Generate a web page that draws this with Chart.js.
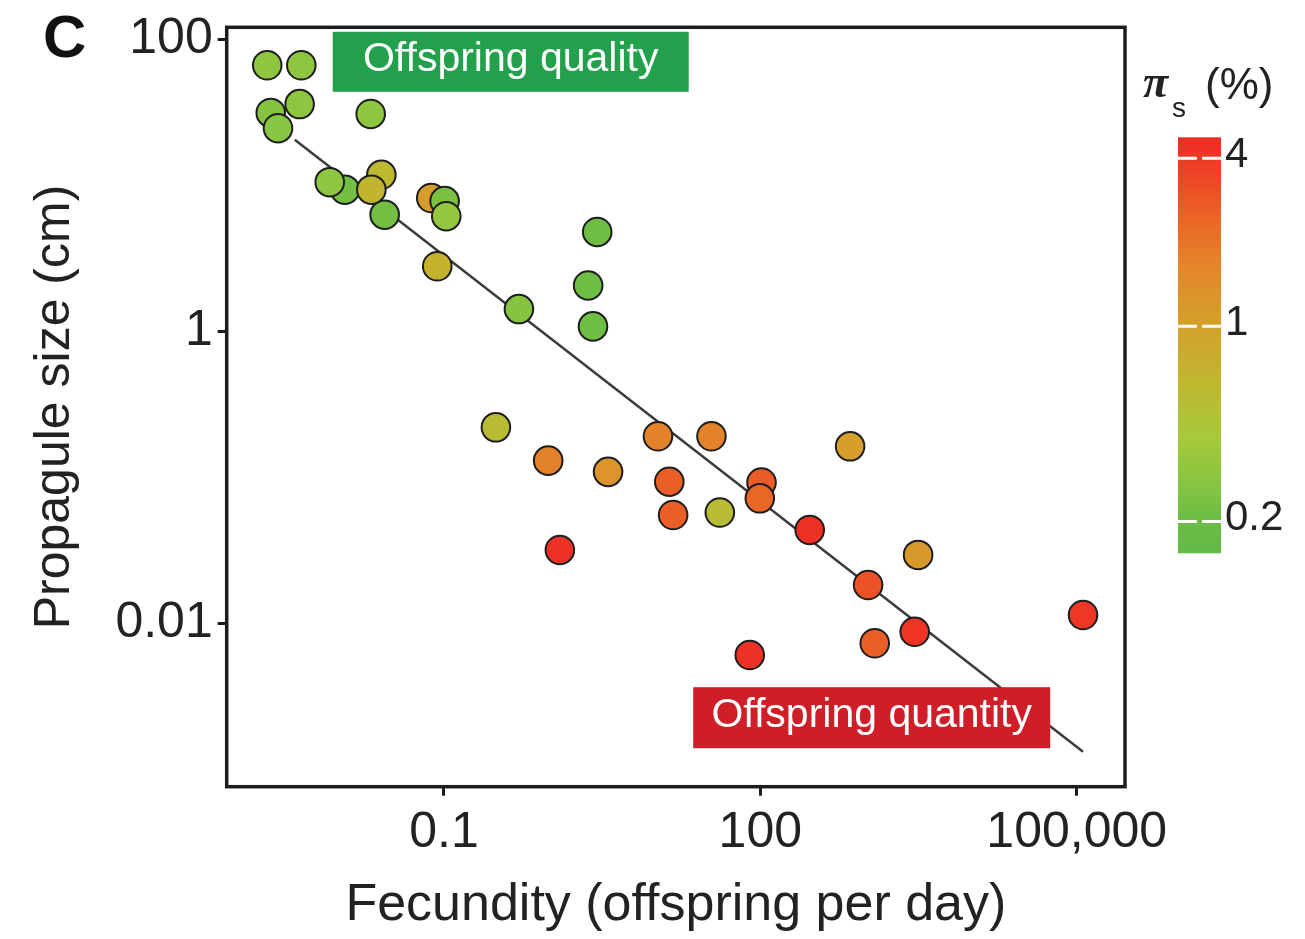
<!DOCTYPE html>
<html><head><meta charset="utf-8">
<script src="https://cdn.jsdelivr.net/npm/chart.js@4/dist/chart.umd.min.js"></script>
<style>html,body{margin:0;padding:0;background:#fff}#wrap{width:1305px;height:939px;position:relative}</style>
</head><body><div id="wrap"><canvas id="c"></canvas></div>
<script>
// ---- data ----
const fecundity = [0.00228, 0.00267, 0.00211, 0.00444, 0.00428, 0.0202, 0.0274, 0.0115, 0.00826, 0.0255, 0.0205,
  0.0758, 0.1015, 0.1052, 0.0864, 0.514, 2.84, 2.33, 2.59, 0.311, 0.974, 3.60, 10.7, 34.4, 13.7, 14.9, 41.3,
  102.6, 98.9, 710, 294, 1.257, 1052, 3133, 114800, 2911, 1216, 79.4];
const propaguleSize = [31.3, 24.6, 66.4, 66.4, 36.0, 30.8, 6.29, 9.33, 10.5, 11.8, 9.33,
  8.18, 7.80, 6.14, 2.79, 1.42, 4.79, 2.06, 1.08, 0.220, 0.130, 0.109, 0.191, 0.191, 0.0933, 0.0552, 0.0574,
  0.0921, 0.0718, 0.163, 0.0436, 0.0318, 0.0183, 0.0294, 0.0114, 0.00875, 0.00730, 0.00607];
const piS = [0.27, 0.28, 0.3, 0.3, 0.3, 0.3, 0.22, 0.22, 0.3, 0.6, 0.65,
  1.1, 0.24, 0.32, 0.7, 0.27, 0.21, 0.21, 0.21, 0.55, 1.7, 1.25, 1.7, 1.7, 2.6, 2.6, 0.55,
  2.7, 2.4, 1.05, 4.5, 4.5, 3.0, 1.15, 4.0, 4.2, 2.6, 4.5];
const trendFecundity = [0.00385, 114800];
const trendSize = [20.5, 0.00132];
const xTickValues = [0.1, 100, 100000];
const xTickLabels = ['0.1', '100', '100,000'];
const yTickValues = [100, 1, 0.01];
const yTickLabels = ['100', '1', '0.01'];
const piTickValues = [4, 1, 0.2];
const piTickLabels = ['4', '1', '0.2'];
const annotationLabels = ['Offspring quality', 'Offspring quantity'];
const xTitle = 'Fecundity (offspring per day)';
const yTitle = 'Propagule size (cm)';
const panelLabel = 'C';

// ---- styles ----
const FONT = "'Liberation Sans', Arial, sans-serif";
const TXT = '#222';
const cmap = [[0.15,'#62ba47'],[0.2,'#6abd45'],[0.28,'#88c540'],[0.4,'#a7c93a'],[0.6,'#bdb931'],
  [1.0,'#d4a12a'],[1.6,'#e3872a'],[2.5,'#eb6326'],[4,'#ee3825'],[5,'#ee2a24']];
function hex(h){return [1,3,5].map(i=>parseInt(h.slice(i,i+2),16));}
function piColor(v){
  const lv = Math.log10(v);
  if (v <= cmap[0][0]) return cmap[0][1];
  for (let i=1;i<cmap.length;i++){
    if (v <= cmap[i][0]){
      const a=Math.log10(cmap[i-1][0]), b=Math.log10(cmap[i][0]);
      const t=(lv-a)/(b-a), c1=hex(cmap[i-1][1]), c2=hex(cmap[i][1]);
      const c=c1.map((x,k)=>Math.round(x+(c2[k]-x)*t));
      return `rgb(${c[0]},${c[1]},${c[2]})`;
    }
  }
  return cmap[cmap.length-1][1];
}

const points = fecundity.map((x,i)=>({x, y: propaguleSize[i]}));
const trend = trendFecundity.map((x,i)=>({x, y: trendSize[i]}));

const decor = {
  id: 'decor',
  afterDatasetsDraw(chart){
    const ctx = chart.ctx, ca = chart.chartArea;
    ctx.save();
    let bx = ca.left + 106, by = ca.top + 4.5, bw = 356, bh = 60;
    ctx.fillStyle = '#22a04b';
    ctx.fillRect(bx, by, bw, bh);
    ctx.fillStyle = '#fff';
    ctx.font = `41px ${FONT}`;
    ctx.textAlign = 'center'; ctx.textBaseline = 'middle';
    ctx.fillText(annotationLabels[0], bx + bw/2, by + bh/2 - 2);
    bx = ca.left + 466.5; by = ca.bottom - 99.5; bw = 357; bh = 61;
    ctx.fillStyle = '#cf1e27';
    ctx.fillRect(bx, by, bw, bh);
    ctx.fillStyle = '#fff';
    ctx.fillText(annotationLabels[1], bx + bw/2, by + bh/2 - 2);
    ctx.restore();
  },
  afterDraw(chart){
    const ctx = chart.ctx, ca = chart.chartArea;
    ctx.save();
    ctx.strokeStyle = '#1c1c1c'; ctx.lineWidth = 3.5;
    ctx.strokeRect(ca.left, ca.top, ca.right - ca.left, ca.bottom - ca.top);
    ctx.fillStyle = '#111';
    ctx.font = `bold 60px ${FONT}`;
    ctx.textAlign = 'left'; ctx.textBaseline = 'alphabetic';
    ctx.fillText(panelLabel, 43, 57);
    const vTop = 4.75, vBot = 0.154;
    const barX = ca.right + 53, barW = 43, barTop = ca.top + 110, barBot = ca.top + 526;
    const lt = Math.log10(vTop), lb = Math.log10(vBot);
    const yOf = v => barTop + (lt - Math.log10(v)) / (lt - lb) * (barBot - barTop);
    const g = ctx.createLinearGradient(0, barTop, 0, barBot);
    cmap.forEach(([v,c])=>{
      const t = (lt - Math.log10(v)) / (lt - lb);
      if (t >= 0 && t <= 1) g.addColorStop(t, c);
    });
    g.addColorStop(0, piColor(vTop)); g.addColorStop(1, piColor(vBot));
    ctx.fillStyle = g;
    ctx.fillRect(barX, barTop, barW, barBot - barTop);
    ctx.strokeStyle = '#fff'; ctx.lineWidth = 3;
    ctx.fillStyle = TXT; ctx.font = `42px ${FONT}`;
    ctx.textAlign = 'left'; ctx.textBaseline = 'middle';
    piTickValues.forEach((v,i)=>{
      const y = yOf(v);
      ctx.beginPath();
      ctx.moveTo(barX, y); ctx.lineTo(barX + barW*0.44, y);
      ctx.moveTo(barX + barW*0.56, y); ctx.lineTo(barX + barW, y);
      ctx.stroke();
      ctx.fillText(piTickLabels[i], barX + barW + 4, y - 3);
    });
    ctx.textBaseline = 'alphabetic';
    ctx.font = `italic bold 46px 'Liberation Serif', serif`;
    ctx.fillText('\u03C0', 1143, 97);
    ctx.font = `28px ${FONT}`;
    ctx.fillText('s', 1172, 117);
    ctx.font = `44px ${FONT}`;
    ctx.fillText('(%)', 1205, 99);
    ctx.restore();
  }
};

new Chart(document.getElementById('c'), {
  data: {
    datasets: [
      { type: 'line', data: trend, borderColor: '#3c3c3c', borderWidth: 2.5, pointRadius: 0, fill: false, order: 2 },
      { type: 'scatter', data: points, order: 1,
        backgroundColor: piS.map(piColor), borderColor: '#1e1e1e', borderWidth: 2,
        pointRadius: 14.3, pointHoverRadius: 14.3 }
    ]
  },
  options: {
    responsive: true, maintainAspectRatio: false, animation: false,
    devicePixelRatio: 1,
    layout: { padding: { top: 27.3, right: 180, bottom: 0, left: 0 } },
    plugins: { legend: { display: false }, tooltip: { enabled: false } },
    scales: {
      x: {
        type: 'logarithmic', position: 'bottom',
        min: Math.pow(10, -3.06), max: Math.pow(10, 5.458),
        afterBuildTicks: s => { s.ticks = xTickValues.map(v => ({ value: v })); },
        afterFit: s => { s.height = 152.3; s.paddingLeft = 0; s.paddingRight = 0; s.paddingTop = 0; s.paddingBottom = 0; },
        ticks: { autoSkip: false, maxRotation: 0, padding: 8, color: TXT,
          font: { family: FONT, size: 50 },
          callback: (v) => { const i = xTickValues.indexOf(v); return i >= 0 ? xTickLabels[i] : ''; } },
        grid: { drawOnChartArea: false, drawTicks: true, tickLength: 9, color: '#1c1c1c', lineWidth: 3 },
        border: { display: false },
        title: { display: true, text: xTitle, color: TXT, font: { family: FONT, size: 52 }, padding: { top: 0, bottom: 2 } }
      },
      y: {
        type: 'logarithmic', position: 'left',
        min: Math.pow(10, -3.119), max: Math.pow(10, 2.082),
        afterBuildTicks: s => { s.ticks = yTickValues.map(v => ({ value: v })); },
        afterFit: s => { s.width = 226.7; s.paddingLeft = 0; s.paddingRight = 0; s.paddingTop = 0; s.paddingBottom = 0; },
        ticks: { autoSkip: false, padding: 5, color: TXT,
          font: { family: FONT, size: 50 },
          callback: (v) => { const i = yTickValues.indexOf(v); return i >= 0 ? yTickLabels[i] : ''; } },
        grid: { drawOnChartArea: false, drawTicks: true, tickLength: 9, color: '#1c1c1c', lineWidth: 3 },
        border: { display: false },
        title: { display: true, text: yTitle, color: TXT, font: { family: FONT, size: 50 }, padding: { top: 25, bottom: 0 } }
      }
    }
  },
  plugins: [decor]
});
</script></body></html>
